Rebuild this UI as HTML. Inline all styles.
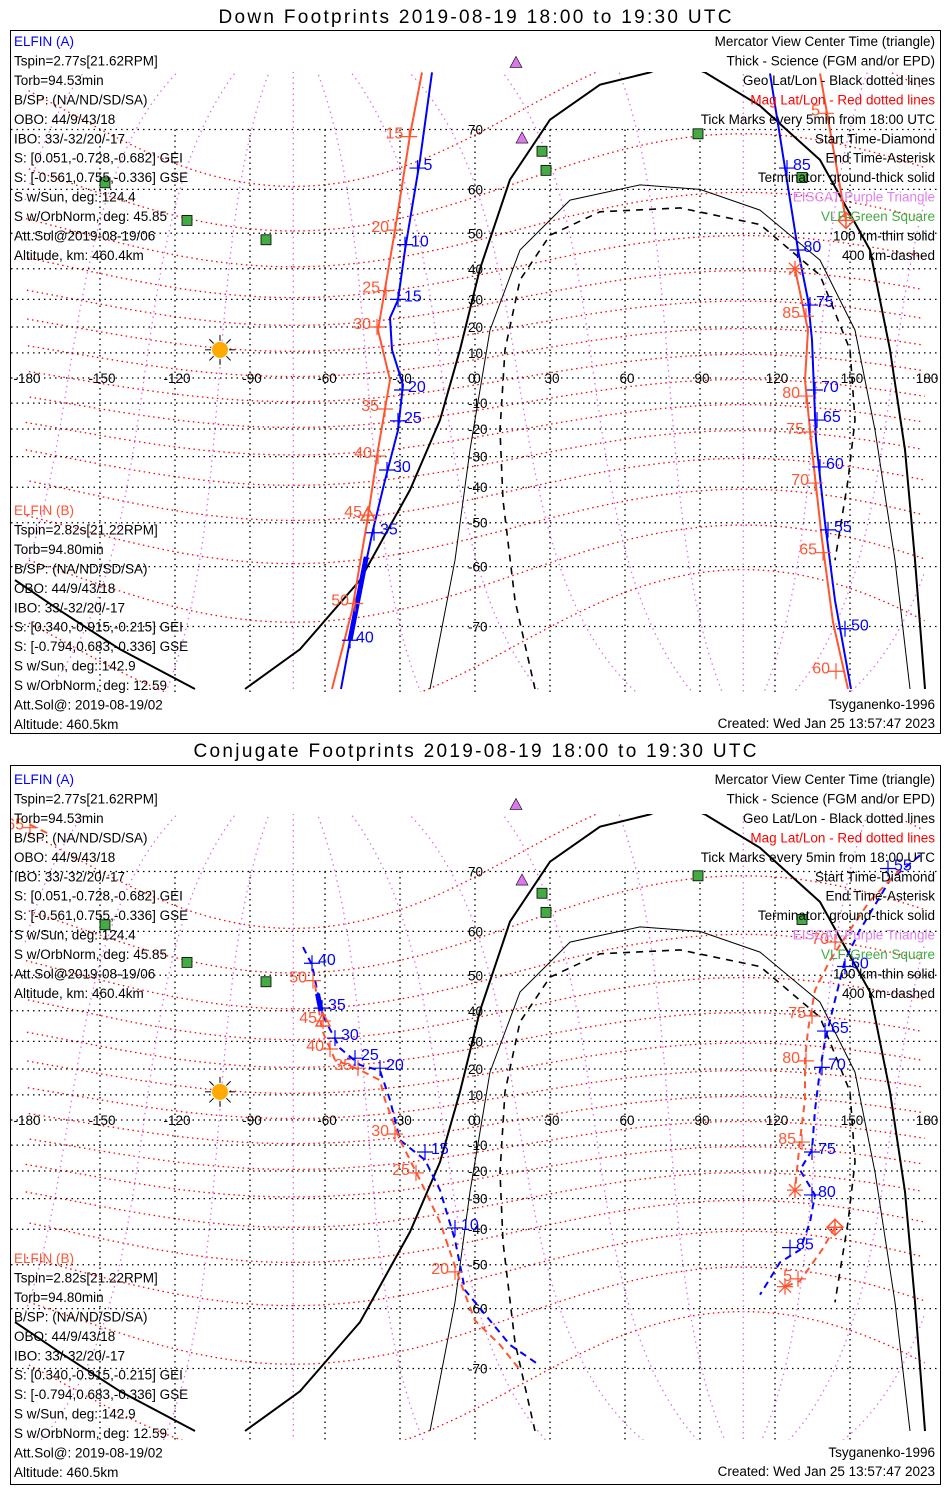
<!DOCTYPE html>
<html><head><meta charset="utf-8"><style>
html,body{margin:0;padding:0;background:#fff;overflow:hidden;width:950px;height:1500px}
svg{display:block}
svg text{font-family:"Liberation Sans",sans-serif;font-size:13.5px}
</style></head><body>
<svg id="chart" width="950" height="1500" xmlns="http://www.w3.org/2000/svg" overflow="hidden">
<rect x="0" y="0" width="950" height="1500" fill="#fff"/>
<g>
<text x="475" y="23" text-anchor="middle" style="font-size:19px" textLength="513" lengthAdjust="spacing">Down Footprints 2019-08-19 18:00 to 19:30 UTC</text>
<rect x="10.5" y="30.5" width="930" height="703" fill="none" stroke="#000"/>
</g>
<g>
<text x="475" y="757" text-anchor="middle" style="font-size:19px" textLength="563" lengthAdjust="spacing">Conjugate Footprints 2019-08-19 18:00 to 19:30 UTC</text>
<rect x="10.5" y="765.5" width="930" height="719" fill="none" stroke="#000"/>
</g>
</svg>
<script>
// ---- data (lon, lat) ----
const termLon=[-184,-166,-142,-112,null,-92,-70,-46,-26,-14,-6,2,14,30,50,70,80,92,114,138,158,166,172,176,180];
const termLat=[-62.6,-67.7,-72.9,-77,null,-77,-72.9,-62.6,-40.8,-16.6,11.2,40,61.9,71.3,75.3,76.5,77.5,76.5,73,65.4,45.5,11.2,-27.6,-58.7,-77];
const thinLon=[-18,-8,-2,6,18,38,66,90,114,138,152,160,168,174];
const thinLat=[-77,-58.7,-27.6,18.8,45.5,57.8,60.9,60,55.6,42.6,18.8,-20.4,-58.7,-77];
const dashLon=[24,16,11.2,10,12,18,30,50,82,114,138,150,152,149.2,144];
const dashLat=[-77,-66.1,-43.8,-20.4,11.2,36.5,49.5,55.2,56.1,52.2,38,11.2,-16.6,-37.8,-58.7];
// Down footprints
const dA1Lon=[-17.2,-22,-28,-30.8,-34,-33.2,-28.8,-30.8,-36,-40.8,-46,-50,-53.6];
const dA1Lat=[76.5,65.4,45.5,29.8,23.4,11.2,-2.8,-20.4,-37.8,-51.8,-64.4,-71.8,-77];
const dA1TickLon=[-23,-28,-30.8,-29.2,-30.8,-35.2,-40.4,-50];
const dA1TickLat=[64,47,30,-4.8,-16.9,-34.5,-52.5,-71.8];
const dA1TickLbl=["5","10","15","20","25","30","35","40"];
const dB1Lon=[-21.2,-26,-32,-38.8,-34,-38.8,-43.2,-49.2,-57.2];
const dB1Lat=[76.5,69.2,50.8,18.8,-0.8,-27.6,-50,-67.7,-77];
const dB1TickLon=[-26.3,-32,-35.6,-39.2,-36,-38.8,-42.8,-48];
const dB1TickLat=[69,50.8,33,20,-12.3,-29.8,-48,-66.6];
const dB1TickLbl=["15","20","25","30","35","40","45","50"];
const dA2Lon=[118,129.2,133.2,134.8,136.4,140,144,150.4];
const dA2Lat=[76.4,45.5,29.8,15,-24.1,-50,-66.1,-77];
const dA2TickLon=[124.8,129,134,136,136.8,138,141.2,148];
const dA2TickLat=[64,45.5,28,-4.8,-16.6,-33.5,-51.8,-70.3];
const dA2TickLbl=["85","80","75","70","65","60","55","50"];
const dB2aLon=[138,148.4];
const dB2aLat=[76.4,53.2];
const dB2bLon=[128,133.2,132,134.8,138.8,143.2,149.2];
const dB2bLat=[40,18.8,-0.8,-27.6,-54.2,-69.4,-77];
const dB2TickLon=[140.4,132.4,132.4,134,136,139.2,144.4];
const dB2TickLat=[72.1,24,-7.2,-21.1,-38.7,-57.1,-75.3];
const dB2TickLbl=["5","85","80","75","70","65","60"];
// Conjugate footprints
const cA1Lon=[-68.8,-65.2,-62.8,-60,-54,-46,-38,-34,-30,-20,-14,-8,-4,6,14,26];
const cA1Lat=[56.7,52.6,44.7,37.1,27.6,21.5,19.4,8,-8,-15.8,-27,-43.2,-56.1,-62.3,-66.5,-69.6];
const cA1TickLon=[-65.2,-61.2,-56,-48,-38,-20,-8];
const cA1TickLat=[53,40.8,31.1,24,20.3,-12.7,-39.6];
const cA1TickLbl=["40","35","30","25","20","15","10"];
const cB1Lon=[-64,-61.2,-56,-46,-38,-36,-30,-22,-14,-6,0,10,18];
const cB1Lat=[47.5,33.8,23.4,19.6,15.7,8,-8,-23.3,-37.8,-54,-62.3,-66.5,-70.2];
const cB1TickLon=[-64.8,-60.8,-58,-46.8,-32,-23.6,-8];
const cB1TickLat=[48.6,36.8,27.3,20.3,-5.6,-20.7,-51.8];
const cB1TickLbl=["50","45","40","35","30","25","20"];
const cB0Lon=[-178,-170];
const cB0Lat=[75.5,74.5];
const cA2Lon=[178,166,154,148,144,140,138,136,134.8,130,136,134,130,122,114];
const cA2Lat=[72.1,68.8,60.3,53.7,43.2,30.2,19.6,4,-11.9,-19.6,-28.7,-37.8,-46,-49.4,-57.1];
const cA2TickLon=[165.2,148,140,138.8,134.8,134.8,126];
const cA2TickLat=[70.4,52.2,33.5,20.6,-12.7,-28.7,-45.4];
const cA2TickLbl=["55","60","65","70","75","80","85"];
const cB2aLon=[170,158,150,142,136,133.2,132,132,130,128];
const cB2aLat=[70.2,65.6,60.3,53.7,46,33.8,23.4,8,-8,-27];
const cB2bLon=[144,138.8,130,124];
const cB2bLat=[-39.4,-46,-54,-55.3];
const cB2TickLon=[144,134.8,132.4,130.8,129.2];
const cB2TickLat=[57.8,38.4,23,-8.8,-53.5];
const cB2TickLbl=["70","75","80","85","5"];
const vlfLon=[-148,-115.2,-83.6,26.8,28.4,89.2,130.8];
const vlfLat=[61.3,53.2,48.3,66.8,63.6,69.4,62.3];
const eiscatLon=[16.4,18.8];
const eiscatLat=[77.4,68.8];
const sunLon=-102, sunLat=11.2;
const latTicks=[70,60,50,40,30,20,10,0,-10,-20,-30,-40,-50,-60,-70];
const lonTicks=[-180,-150,-120,-90,-60,-30,0,30,60,90,120,150,180];
const magLatLines=[-70,-60,-50,-40,-30,-20,-10,0,10,20,30,40,50,60,70];
const magLonLines=[0,30,60,90,120,150,180,210,240,270,300,330];
const poleLat=80.6, poleLon=-72.7;

const NS='http://www.w3.org/2000/svg';
const svg=document.getElementById('chart');
const BLUE='#0000ff', RED='#ff5533';
const R=Math.PI/180;
function X(lon){return 475+lon*2.5;}
function mk(tag,at,parent){const e=document.createElementNS(NS,tag);for(const k in at)e.setAttribute(k,at[k]);(parent||svg).appendChild(e);return e;}
function pathFrom(lons,lats,Y){let d='',pen=false,px=null;
  for(let i=0;i<lons.length;i++){if(lons[i]===null||lats[i]===null){pen=false;continue;}
    const x=X(lons[i]),y=Y(lats[i]);
    if(pen && Math.abs(x-px)<300)d+='L'+x.toFixed(1)+' '+y.toFixed(1);else d+='M'+x.toFixed(1)+' '+y.toFixed(1);
    pen=true;px=x;}
  return d;}
const pl=poleLat*R,po=poleLon*R;
const P=[Math.cos(pl)*Math.cos(po),Math.cos(pl)*Math.sin(po),Math.sin(pl)];
let Yv=[-P[1],P[0],0];const yn=Math.hypot(Yv[0],Yv[1]);Yv=Yv.map(v=>v/yn);
const Xv=[Yv[1]*P[2]-Yv[2]*P[1],Yv[2]*P[0]-Yv[0]*P[2],Yv[0]*P[1]-Yv[1]*P[0]];
function mag2geo(L,F){const cL=Math.cos(L*R),sL=Math.sin(L*R),cF=Math.cos(F*R),sF=Math.sin(F*R);
  const v=[0,1,2].map(i=>Xv[i]*cL*cF+Yv[i]*cL*sF+P[i]*sL);
  return [Math.atan2(v[1],v[0])/R,Math.asin(Math.max(-1,Math.min(1,v[2])))/R];}
function pushPt(lo,la,q){if(Math.abs(q[1])>79){lo.push(null);la.push(null);}else{lo.push(q[0]);la.push(q[1]);}}

function panel(idx,y0,top,bot,clipId,T){
  const Y=lat=>y0-143.2*Math.log(Math.tan(Math.PI/4+lat*R/2));
  const defs=mk('defs',{});const cp=mk('clipPath',{id:clipId},defs);
  mk('rect',{x:11,y:top,width:929,height:bot-top},cp);
  const g=mk('g',{'clip-path':'url(#'+clipId+')'});
  
  
  magLatLines.forEach(L=>{const lo=[],la=[];for(let f=0;f<=360;f+=2){pushPt(lo,la,mag2geo(L,f));}
    const p=mk('path',{d:pathFrom(lo,la,Y),fill:'none',stroke:'#ff0000','stroke-width':1.3,'stroke-dasharray':'1.5,3.5'},g);
    
    });
  magLonLines.forEach(F=>{const lo=[],la=[];for(let L=-88;L<=88;L+=1){pushPt(lo,la,mag2geo(L,F));}
    const p=mk('path',{d:pathFrom(lo,la,Y),fill:'none',stroke:'#e070e8','stroke-width':1.3,'stroke-dasharray':'1.5,4'},g);
    
    });
  latTicks.forEach(l=>{const p=mk('line',{x1:11,x2:940,y1:Y(l),y2:Y(l),stroke:'#000','stroke-width':1.3,'stroke-dasharray':'1.5,4'},g);
    
    });
  lonTicks.forEach(l=>{if(Math.abs(l)===180)return;const p=mk('line',{x1:X(l),x2:X(l),y1:Y(70),y2:bot,stroke:'#000','stroke-width':1.3,'stroke-dasharray':'1.5,4'},g);
    
    });
  latTicks.forEach(l=>{const t=mk('text',{x:468,y:Y(l)+5},g);t.textContent=String(l);
    
    });
  lonTicks.forEach(l=>{const t=mk('text',{x:X(l)+2,y:y0+5,'text-anchor':'middle'},g);t.textContent=String(l);
    
    });
  let p=mk('path',{d:pathFrom(termLon,termLat,Y),fill:'none',stroke:'#000','stroke-width':2},g);
  
  
  p=mk('path',{d:pathFrom(thinLon,thinLat,Y),fill:'none',stroke:'#000','stroke-width':1},g);
  
  
  p=mk('path',{d:pathFrom(dashLon,dashLat,Y),fill:'none',stroke:'#000','stroke-width':1.6,'stroke-dasharray':'7,6'},g);
  
  
  const sx=X(sunLon),sy=Y(sunLat);
  for(let a=0;a<360;a+=45){mk('line',{x1:sx+9*Math.cos(a*R),y1:sy+9*Math.sin(a*R),x2:sx+15*Math.cos(a*R),y2:sy+15*Math.sin(a*R),stroke:'#000','stroke-width':1},g);}
  p=mk('circle',{cx:sx,cy:sy,r:8,fill:'#ffaa00'},g);
  
  
  vlfLon.forEach((lo,i)=>{const q=mk('rect',{x:X(lo)-5,y:Y(vlfLat[i])-5,width:10,height:10,fill:'#44aa44',stroke:'#000','stroke-width':0.8},svg);
    
    });
  eiscatLon.forEach((lo,i)=>{const x=X(lo),y=Y(eiscatLat[i]);const q=mk('polygon',{points:`${x},${y-6} ${x-6},${y+5} ${x+6},${y+5}`,fill:'#dd77ee',stroke:'#000','stroke-width':0.6},svg);
    
    });
  T.tracks.forEach(tr=>{const q=mk('path',{d:pathFrom(tr.lon,tr.lat,Y),fill:'none',stroke:tr.c,'stroke-width':tr.w||2,'stroke-dasharray':tr.dash||'none'},g);
    
    });
  T.ticks.forEach(tk=>{tk.lon.forEach((lo,i)=>{const x=X(lo),y=Y(tk.lat[i]);
    mk('path',{d:`M${x-8} ${y}H${x+8}M${x} ${y-8}V${y+8}`,stroke:tk.c,'stroke-width':1.2},g);
    const t=mk('text',{x:tk.c===BLUE?x+6:x-6,y:y+2,fill:tk.c,'text-anchor':tk.c===BLUE?'start':'end',style:'font-size:16px'},g);
    t.textContent=tk.lbl[i];
    
    });});
  T.marks.forEach(m=>{const x=X(m.lon),y=Y(m.lat);let q;
    if(m.t==='d'){q=mk('path',{d:`M${x} ${y-8}L${x+8} ${y}L${x} ${y+8}L${x-8} ${y}ZM${x-8} ${y}H${x+8}M${x} ${y-8}V${y+8}`,fill:'none',stroke:RED,'stroke-width':1.5},g);}
    else if(m.t==='a'){q=mk('path',{d:`M${x-8} ${y}H${x+8}M${x} ${y-8}V${y+8}M${x-6} ${y-6}L${x+6} ${y+6}M${x-6} ${y+6}L${x+6} ${y-6}`,stroke:RED,'stroke-width':1.3},g);}
    else {q=mk('polygon',{points:`${x},${y-8} ${x-7},${y+5} ${x+7},${y+5}`,fill:'none',stroke:RED,'stroke-width':1.5},g);}
    
    });
}
panel('down',378,72,692,'c1',{
  tracks:[{lon:dA1Lon,lat:dA1Lat,c:BLUE,name:'elfin-a-track-west'},{lon:dB1Lon,lat:dB1Lat,c:RED,name:'elfin-b-track-west'},
    {lon:dA2Lon,lat:dA2Lat,c:BLUE,name:'elfin-a-track-east'},{lon:dB2aLon,lat:dB2aLat,c:RED,name:'elfin-b-track-east-1'},{lon:dB2bLon,lat:dB2bLat,c:RED,name:'elfin-b-track-east-2'},
    {lon:[-43.5,-50],lat:[-58,-71.8],c:BLUE,w:5,name:'elfin-a-science'}],
  ticks:[{lon:dA1TickLon,lat:dA1TickLat,lbl:dA1TickLbl,c:BLUE},{lon:dB1TickLon,lat:dB1TickLat,lbl:dB1TickLbl,c:RED},
    {lon:dA2TickLon,lat:dA2TickLat,lbl:dA2TickLbl,c:BLUE},{lon:dB2TickLon,lat:dB2TickLat,lbl:dB2TickLbl,c:RED}],
  marks:[{lon:148.4,lat:53.2,t:'d'},{lon:128,lat:40,t:'a'},{lon:-42.8,lat:-48,t:'t'}]});
panel('conjugate',1120,814,1440,'c2',{
  tracks:[{lon:cA1Lon,lat:cA1Lat,c:BLUE,dash:'7,5',name:'elfin-a-conj-west'},{lon:cB1Lon,lat:cB1Lat,c:RED,dash:'7,5',name:'elfin-b-conj-west'},
    {lon:cB0Lon,lat:cB0Lat,c:RED,dash:'7,5',name:'elfin-b-conj-edge'},
    {lon:cA2Lon,lat:cA2Lat,c:BLUE,dash:'7,5',name:'elfin-a-conj-east'},{lon:cB2aLon,lat:cB2aLat,c:RED,dash:'7,5',name:'elfin-b-conj-east-1'},{lon:cB2bLon,lat:cB2bLat,c:RED,dash:'7,5',name:'elfin-b-conj-east-2'},
    {lon:[-63,-61.6],lat:[45,40],c:BLUE,w:5,name:'elfin-a-conj-science'}],
  ticks:[{lon:cA1TickLon,lat:cA1TickLat,lbl:cA1TickLbl,c:BLUE},{lon:cB1TickLon,lat:cB1TickLat,lbl:cB1TickLbl,c:RED},
    {lon:cA2TickLon,lat:cA2TickLat,lbl:cA2TickLbl,c:BLUE},{lon:cB2TickLon,lat:cB2TickLat,lbl:cB2TickLbl,c:RED},
    {lon:[-178],lat:[75.2],lbl:['65'],c:RED}],
  marks:[{lon:144,lat:-39.4,t:'d'},{lon:128,lat:-27,t:'a'},{lon:124,lat:-55.3,t:'a'},{lon:-60.8,lat:36.8,t:'t'}]});

const infoA=['ELFIN (A)','Tspin=2.77s[21.62RPM]','Torb=94.53min','B/SP: (NA/ND/SD/SA)','OBO: 44/9/43/18','IBO: 33/-32/20/-17','S: [0.051,-0.728,-0.682] GEI','S: [-0.561,0.755,-0.336] GSE','S w/Sun, deg: 124.4','S w/OrbNorm, deg: 45.85','Att.Sol@2019-08-19/06','Altitude, km: 460.4km'];
const infoB=['ELFIN (B)','Tspin=2.82s[21.22RPM]','Torb=94.80min','B/SP: (NA/ND/SD/SA)','OBO: 44/9/43/18','IBO: 33/-32/20/-17','S: [0.340,-0.915,-0.215] GEI','S: [-0.794,0.683,-0.336] GSE','S w/Sun, deg: 142.9','S w/OrbNorm, deg: 12.59','Att.Sol@: 2019-08-19/02','Altitude: 460.5km'];
const legend=[['Mercator View Center Time (triangle)','#000'],['Thick - Science (FGM and/or EPD)','#000'],['Geo Lat/Lon - Black dotted lines','#000'],['Mag Lat/Lon - Red dotted lines','#ff0000'],['Tick Marks every 5min from 18:00 UTC','#000'],['Start Time-Diamond','#000'],['End Time-Asterisk','#000'],['Terminator: ground-thick solid','#000'],['EISCAT-Purple Triangle','#e080f0'],['VLF-Green Square','#44aa44'],['100 km-thin solid','#000'],['400 km-dashed','#000']];
function block(lines,x,y,anchor,first,name){lines.forEach((l,i)=>{const txt=Array.isArray(l)?l[0]:l;const col=Array.isArray(l)?l[1]:(i===0&&first?first:'#000');
  const t=mk('text',{x:x,y:y+i*19.45,fill:col,'text-anchor':anchor});t.textContent=txt;
  
  });}
[[0,0,0],[738,738,748]].forEach(o=>{
  block(infoA,14,46+o[0],'start',BLUE,'elfin-a-info');
  block(infoB,14,515+o[2],'start',RED,'elfin-b-info');
  block(legend,935,46+o[1],'end',null,'legend-entry');
  let t=mk('text',{x:935,y:709+o[2],'text-anchor':'end'});t.textContent='Tsyganenko-1996';
  
  
  t=mk('text',{x:935,y:728+o[2],'text-anchor':'end'});t.textContent='Created: Wed Jan 25 13:57:47 2023';
  
  
});
</script>
</body></html>
